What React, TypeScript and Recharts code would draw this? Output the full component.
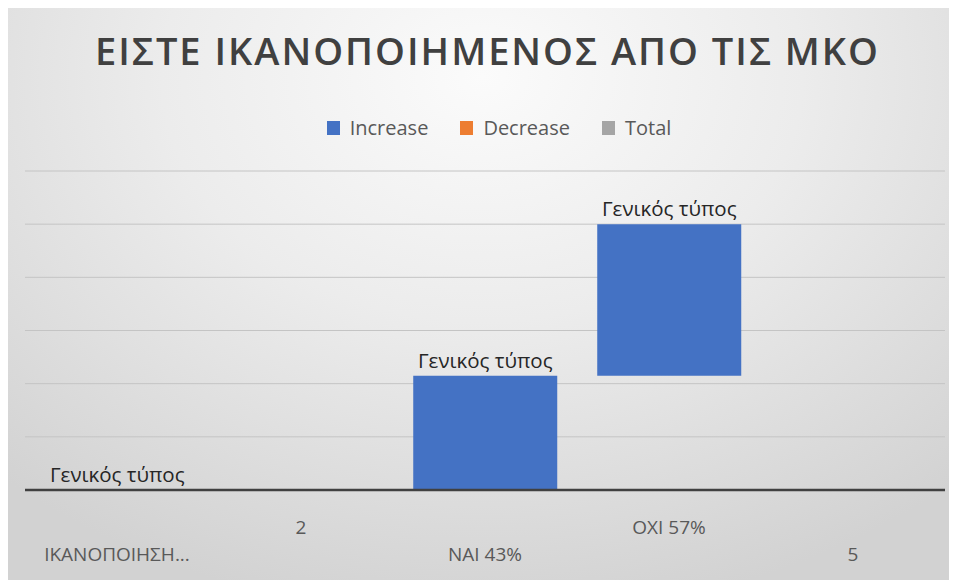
import React from "react";
import {
  BarChart,
  Bar,
  XAxis,
  YAxis,
  CartesianGrid,
  Legend,
  LabelList,
} from "recharts";

const categories = ["ΙΚΑΝΟΠΟΙΗΣΗ...", "2", "ΝΑΙ 43%", "ΟΧΙ 57%", "5"];
const baseValues = [0, null, 0, 43, null];
const increaseValues = [0, null, 43, 57, null];
const decreaseValues = [null, null, null, null, null];
const totalValues = [null, null, null, null, null];
const pointLabels = ["Γενικός τύπος", "", "Γενικός τύπος", "Γενικός τύπος", ""];
const legendNames = ["Increase", "Decrease", "Total"];
const yTicks = [0, 20, 40, 60, 80, 100, 120];

const chartData = categories.map((name, i) => ({
  name,
  base: baseValues[i],
  increase: increaseValues[i],
  decrease: decreaseValues[i],
  total: totalValues[i],
  label: pointLabels[i],
}));

const FONT = '"Open Sans", "Noto Sans", sans-serif';

function CategoryTick(props: any) {
  const { x, y, payload } = props;
  // excel staggers the category labels on two rows
  const dy = payload.index % 2 === 0 ? 56 : 29;
  return (
    <text
      x={x}
      y={y + dy}
      textAnchor="middle"
      dominantBaseline="central"
      fill="#595959"
      fontSize={19}
      fontFamily={FONT}
    >
      {payload.value}
    </text>
  );
}

function BarLabel(props: any) {
  const { x, y, width, value } = props;
  if (!value) return null;
  return (
    <text
      x={x + width / 2}
      y={y - 8}
      textAnchor="middle"
      fill="#262626"
      fontSize={20.5}
      fontFamily={FONT}
    >
      {value}
    </text>
  );
}

function LegendContent(props: any) {
  const items = legendNames
    .map((n) => (props.payload || []).find((p: any) => p.value === n))
    .filter(Boolean);
  return (
    <div
      style={{
        display: "flex",
        justifyContent: "center",
        alignItems: "center",
        gap: 32,
        fontFamily: FONT,
        fontSize: 20,
        color: "#595959",
      }}
    >
      {items.map((item: any) => (
        <div key={item.value} style={{ display: "flex", alignItems: "center" }}>
          <span
            style={{
              display: "inline-block",
              width: 13,
              height: 14,
              background: item.color,
              marginRight: 10,
            }}
          />
          <span>{item.value}</span>
        </div>
      ))}
    </div>
  );
}

export default function App() {
  return (
    <div
      style={{
        position: "relative",
        width: 949,
        height: 572,
        background:
          "radial-gradient(ellipse 75% 95% at 50% 12%, #fbfbfb 0%, #ececec 45%, #d2d2d2 100%)",
        fontFamily: FONT,
      }}
    >
      <div
        style={{
          position: "absolute",
          top: 24,
          left: 0,
          width: 949,
          textAlign: "center",
          fontSize: 38,
          lineHeight: "36px",
          letterSpacing: 2,
          fontWeight: 600,
          color: "#404040",
          paddingLeft: 10,
          boxSizing: "border-box",
        }}
      >
        ΕΙΣΤΕ ΙΚΑΝΟΠΟΙΗΜΕΝΟΣ ΑΠΟ ΤΙΣ ΜΚΟ
      </div>
      <BarChart
        width={949}
        height={572}
        data={chartData}
        margin={{ top: 136, right: 12, bottom: 30, left: 17 }}
        barCategoryGap="11%"
        style={{ position: "absolute", top: 0, left: 0 }}
      >
        <CartesianGrid vertical={false} stroke="#c4c4c4" strokeWidth={1} />
        <YAxis hide domain={[0, 120]} ticks={yTicks} />
        <XAxis
          dataKey="name"
          interval={0}
          height={60}
          tickLine={false}
          axisLine={{ stroke: "#404040", strokeWidth: 2.5 }}
          tick={<CategoryTick />}
        />
        <Legend
          verticalAlign="top"
          content={<LegendContent />}
          wrapperStyle={{ top: 106, paddingLeft: 14 }}
        />
        <Bar
          dataKey="base"
          stackId="w"
          fill="transparent"
          legendType="none"
          isAnimationActive={false}
        />
        <Bar
          dataKey="increase"
          name="Increase"
          stackId="w"
          fill="#4472C4"
          minPointSize={(v: number) => (v === 0 ? 0.01 : 0)}
          isAnimationActive={false}
        >
          <LabelList dataKey="label" content={<BarLabel />} />
        </Bar>
        <Bar
          dataKey="decrease"
          name="Decrease"
          stackId="w"
          fill="#ED7D31"
          isAnimationActive={false}
        />
        <Bar
          dataKey="total"
          name="Total"
          stackId="w"
          fill="#A5A5A5"
          isAnimationActive={false}
        />
      </BarChart>
    </div>
  );
}
